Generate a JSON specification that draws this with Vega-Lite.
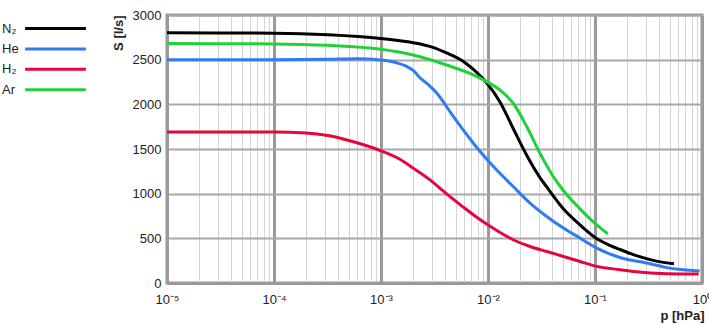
{
  "$schema": "https://vega.github.io/schema/vega-lite/v6.json",
  "width": 535,
  "height": 268,
  "autosize": "none",
  "padding": {"left": 167, "top": 15, "right": 7, "bottom": 42},
  "config": {
    "font": "Liberation Sans",
    "view": {"stroke": "#9a9a9a", "strokeWidth": 3},
    "axis": {"labelFont": "Liberation Sans", "titleFont": "Liberation Sans", "labelColor": "#222", "titleColor": "#222"}
  },
  "data": {
    "values": [
      {"gas": "N₂", "p": 0.00001, "S": 2800},
      {"gas": "N₂", "p": 0.0001, "S": 2797},
      {"gas": "N₂", "p": 0.00032, "S": 2780},
      {"gas": "N₂", "p": 0.001, "S": 2738},
      {"gas": "N₂", "p": 0.002, "S": 2690},
      {"gas": "N₂", "p": 0.003, "S": 2640},
      {"gas": "N₂", "p": 0.0041, "S": 2575},
      {"gas": "N₂", "p": 0.0058, "S": 2485},
      {"gas": "N₂", "p": 0.0073, "S": 2390},
      {"gas": "N₂", "p": 0.0097, "S": 2240},
      {"gas": "N₂", "p": 0.0129, "S": 2030},
      {"gas": "N₂", "p": 0.0172, "S": 1730},
      {"gas": "N₂", "p": 0.023, "S": 1430},
      {"gas": "N₂", "p": 0.0306, "S": 1180},
      {"gas": "N₂", "p": 0.0354, "S": 1075},
      {"gas": "N₂", "p": 0.0407, "S": 975},
      {"gas": "N₂", "p": 0.0506, "S": 830},
      {"gas": "N₂", "p": 0.0724, "S": 650},
      {"gas": "N₂", "p": 0.1, "S": 510},
      {"gas": "N₂", "p": 0.13, "S": 435},
      {"gas": "N₂", "p": 0.171, "S": 375},
      {"gas": "N₂", "p": 0.228, "S": 318},
      {"gas": "N₂", "p": 0.327, "S": 262},
      {"gas": "N₂", "p": 0.45, "S": 228},
      {"gas": "N₂", "p": 0.547, "S": 215},
      {"gas": "He", "p": 0.00001, "S": 2500},
      {"gas": "He", "p": 0.0001, "S": 2500},
      {"gas": "He", "p": 0.00032, "S": 2505},
      {"gas": "He", "p": 0.0006, "S": 2510},
      {"gas": "He", "p": 0.001, "S": 2495},
      {"gas": "He", "p": 0.0014, "S": 2465},
      {"gas": "He", "p": 0.0017, "S": 2430},
      {"gas": "He", "p": 0.002, "S": 2380},
      {"gas": "He", "p": 0.0023, "S": 2300},
      {"gas": "He", "p": 0.0028, "S": 2215},
      {"gas": "He", "p": 0.0033, "S": 2130},
      {"gas": "He", "p": 0.0047, "S": 1870},
      {"gas": "He", "p": 0.0073, "S": 1565},
      {"gas": "He", "p": 0.0084, "S": 1475},
      {"gas": "He", "p": 0.012, "S": 1267},
      {"gas": "He", "p": 0.0172, "S": 1080},
      {"gas": "He", "p": 0.0247, "S": 894},
      {"gas": "He", "p": 0.0354, "S": 745},
      {"gas": "He", "p": 0.0506, "S": 615},
      {"gas": "He", "p": 0.0724, "S": 503},
      {"gas": "He", "p": 0.1038, "S": 391},
      {"gas": "He", "p": 0.171, "S": 285},
      {"gas": "He", "p": 0.327, "S": 216},
      {"gas": "He", "p": 0.468, "S": 172},
      {"gas": "He", "p": 0.95, "S": 135},
      {"gas": "H₂", "p": 0.00001, "S": 1690},
      {"gas": "H₂", "p": 0.0001, "S": 1690},
      {"gas": "H₂", "p": 0.0002, "S": 1680},
      {"gas": "H₂", "p": 0.00032, "S": 1650},
      {"gas": "H₂", "p": 0.0005, "S": 1595},
      {"gas": "H₂", "p": 0.0007, "S": 1545},
      {"gas": "H₂", "p": 0.001, "S": 1480},
      {"gas": "H₂", "p": 0.0015, "S": 1385},
      {"gas": "H₂", "p": 0.002, "S": 1286},
      {"gas": "H₂", "p": 0.00287, "S": 1155},
      {"gas": "H₂", "p": 0.00411, "S": 998},
      {"gas": "H₂", "p": 0.00587, "S": 850},
      {"gas": "H₂", "p": 0.0084, "S": 710},
      {"gas": "H₂", "p": 0.012, "S": 590},
      {"gas": "H₂", "p": 0.0172, "S": 484},
      {"gas": "H₂", "p": 0.0247, "S": 409},
      {"gas": "H₂", "p": 0.0354, "S": 353},
      {"gas": "H₂", "p": 0.0506, "S": 297},
      {"gas": "H₂", "p": 0.0724, "S": 241},
      {"gas": "H₂", "p": 0.1038, "S": 186},
      {"gas": "H₂", "p": 0.171, "S": 149},
      {"gas": "H₂", "p": 0.228, "S": 130},
      {"gas": "H₂", "p": 0.468, "S": 104},
      {"gas": "H₂", "p": 0.93, "S": 100},
      {"gas": "Ar", "p": 0.00001, "S": 2680},
      {"gas": "Ar", "p": 0.0001, "S": 2676},
      {"gas": "Ar", "p": 0.00032, "S": 2660},
      {"gas": "Ar", "p": 0.001, "S": 2616},
      {"gas": "Ar", "p": 0.002, "S": 2552},
      {"gas": "Ar", "p": 0.0041, "S": 2440},
      {"gas": "Ar", "p": 0.0073, "S": 2329},
      {"gas": "Ar", "p": 0.0097, "S": 2254},
      {"gas": "Ar", "p": 0.0129, "S": 2161},
      {"gas": "Ar", "p": 0.0172, "S": 2012},
      {"gas": "Ar", "p": 0.023, "S": 1751},
      {"gas": "Ar", "p": 0.0306, "S": 1453},
      {"gas": "Ar", "p": 0.0354, "S": 1314},
      {"gas": "Ar", "p": 0.0407, "S": 1192},
      {"gas": "Ar", "p": 0.0506, "S": 1035},
      {"gas": "Ar", "p": 0.0724, "S": 830},
      {"gas": "Ar", "p": 0.1038, "S": 650},
      {"gas": "Ar", "p": 0.1315, "S": 551}
    ]
  },
  "mark": {"type": "line", "strokeWidth": 3, "interpolate": "monotone", "clip": true},
  "encoding": {
    "x": {
      "field": "p", "type": "quantitative",
      "scale": {"type": "log", "domain": [0.00001, 1], "nice": false},
      "axis": {
        "title": "p [hPa]",
        "titleFontSize": 13, "titleFontWeight": "bold",
        "titleAnchor": "end", "titleAlign": "right", "titleBaseline": "alphabetic",
        "titleX": 537, "titleY": 36,
        "values": [0.00001,0.00002,0.00003,0.00004,0.00005,0.00006,0.00007,0.00008,0.00009,
                   0.0001,0.0002,0.0003,0.0004,0.0005,0.0006,0.0007,0.0008,0.0009,
                   0.001,0.002,0.003,0.004,0.005,0.006,0.007,0.008,0.009,
                   0.01,0.02,0.03,0.04,0.05,0.06,0.07,0.08,0.09,
                   0.1,0.2,0.3,0.4,0.5,0.6,0.7,0.8,0.9,1],
        "labelExpr": "datum.value == 0.00001 ? '10⁻⁵' : datum.value == 0.0001 ? '10⁻⁴' : datum.value == 0.001 ? '10⁻³' : datum.value == 0.01 ? '10⁻²' : datum.value == 0.1 ? '10⁻¹' : datum.value == 1 ? '10⁰' : ''",
        "labelOverlap": false, "labelFlush": false, "labelBound": false,
        "labelFontSize": 13, "labelPadding": 10,
        "ticks": false,
        "domain": true, "domainColor": "#9a9a9a", "domainWidth": 3,
        "grid": true,
        "gridColor": {"condition": {"test": "indexof([0.00001,0.0001,0.001,0.01,0.1,1], datum.value) >= 0", "value": "#9a9a9a"}, "value": "#d4d4d4"},
        "gridWidth": {"condition": {"test": "indexof([0.00001,0.0001,0.001,0.01,0.1,1], datum.value) >= 0", "value": 3}, "value": 1}
      }
    },
    "y": {
      "field": "S", "type": "quantitative",
      "scale": {"domain": [0, 3000], "nice": false},
      "axis": {
        "title": "S [l/s]",
        "titleFontSize": 13, "titleFontWeight": "bold",
        "titleAlign": "right", "titleBaseline": "middle",
        "titleX": -49, "titleY": 0, "titleAngle": -90,
        "values": [0, 500, 1000, 1500, 2000, 2500, 3000],
        "format": "d",
        "labelFontSize": 13, "labelPadding": 6,
        "ticks": false,
        "domain": true, "domainColor": "#9a9a9a", "domainWidth": 3,
        "grid": true, "gridColor": "#a8a8a8", "gridWidth": 2
      }
    },
    "color": {
      "field": "gas", "type": "nominal",
      "scale": {"domain": ["N₂", "He", "H₂", "Ar"], "range": ["#000000", "#2e7cf4", "#e6063c", "#1fd23a"]},
      "legend": {
        "title": null,
        "orient": "none",
        "legendX": -143, "legendY": 4,
        "padding": 0,
        "symbolType": "M-3.8,0H3.8",
        "symbolSize": 256,
        "symbolStrokeWidth": 3,
        "symbolOffset": 22,
        "rowPadding": 3.4,
        "labelAlign": "left",
        "labelOffset": -63,
        "labelFontSize": 13,
        "labelColor": "#222",
        "labelFont": "Liberation Sans"
      }
    }
  }
}
